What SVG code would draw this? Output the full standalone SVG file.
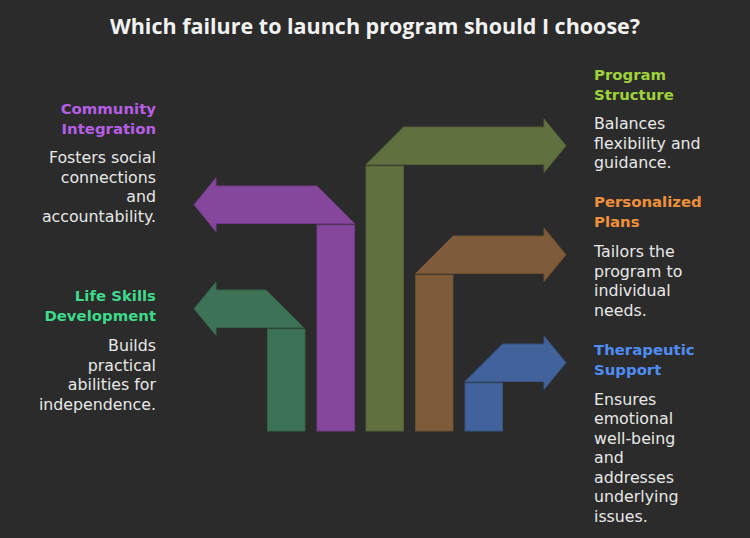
<svg xmlns="http://www.w3.org/2000/svg" width="750" height="538" viewBox="0 0 750 538">
<style>
.bg{fill:#2b2b2b}
.title{font-family:"Open Sans","Liberation Sans",sans-serif;font-weight:bold;font-size:21.5px;fill:#f2f2f2}
.h{font-family:"DejaVu Sans","Liberation Sans",sans-serif;font-weight:bold;font-size:14.9px}
.d{font-family:"DejaVu Sans","Liberation Sans",sans-serif;font-size:15.8px;fill:#e8e8e8}
.r{text-anchor:end}
.shape{stroke-width:1}
</style>
<rect class="bg" x="0" y="0" width="750" height="538"/>
<text class="title" x="375" y="34" text-anchor="middle">Which failure to launch program should I choose?</text>

<g id="life-skills">
<polygon class="shape" fill="#3e7256" stroke="#36604a" points="303.5,327.5 216,327.5 216,335.5 194,308.7 216,282 216,290 266,290"/>
<rect class="shape" fill="#3e7256" stroke="#36604a" x="267.5" y="329" width="37.5" height="102"/>
<text class="h r" fill="#3ed98a" x="156" y="301">Life Skills</text>
<text class="h r" fill="#3ed98a" x="156" y="320.5">Development</text>
<text class="d r" x="156" y="351">Builds</text>
<text class="d r" x="156" y="370.5">practical</text>
<text class="d r" x="156" y="390">abilities for</text>
<text class="d r" x="156" y="409.5">independence.</text>
</g>

<g id="community-integration">
<polygon class="shape" fill="#84479c" stroke="#703c85" points="354.5,223.5 216,223.5 216,231.7 194,204.7 216,177.7 216,186 317,186"/>
<rect class="shape" fill="#84479c" stroke="#703c85" x="317" y="225" width="37.5" height="206"/>
<text class="h r" fill="#b55ee6" x="156" y="114">Community</text>
<text class="h r" fill="#b55ee6" x="156" y="133.5">Integration</text>
<text class="d r" x="156" y="163">Fosters social</text>
<text class="d r" x="156" y="182.5">connections</text>
<text class="d r" x="156" y="202">and</text>
<text class="d r" x="156" y="221.5">accountability.</text>
</g>

<g id="program-structure">
<polygon class="shape" fill="#61703f" stroke="#535f36" points="366,164.5 544,164.5 544,172.5 566,145.7 544,119 544,127 403.5,127"/>
<rect class="shape" fill="#61703f" stroke="#535f36" x="366" y="166" width="37.5" height="265"/>
<text class="h" fill="#9fd13a" x="594" y="80">Program</text>
<text class="h" fill="#9fd13a" x="594" y="99.5">Structure</text>
<text class="d" x="594" y="129">Balances</text>
<text class="d" x="594" y="148.5">flexibility and</text>
<text class="d" x="594" y="168">guidance.</text>
</g>

<g id="personalized-plans">
<polygon class="shape" fill="#7e5c3a" stroke="#6b4e31" points="415.5,273.5 544,273.5 544,281.5 566,254.7 544,228 544,236 453,236"/>
<rect class="shape" fill="#7e5c3a" stroke="#6b4e31" x="415.5" y="275" width="37.5" height="156"/>
<text class="h" fill="#f0903a" x="594" y="207">Personalized</text>
<text class="h" fill="#f0903a" x="594" y="226.5">Plans</text>
<text class="d" x="594" y="257">Tailors the</text>
<text class="d" x="594" y="276.5">program to</text>
<text class="d" x="594" y="296">individual</text>
<text class="d" x="594" y="315.5">needs.</text>
</g>

<g id="therapeutic-support">
<polygon class="shape" fill="#41629a" stroke="#385483" points="465,381.5 544,381.5 544,389.5 566,362.7 544,336 544,344 502.5,344"/>
<rect class="shape" fill="#41629a" stroke="#385483" x="465" y="383" width="37.5" height="48"/>
<text class="h" fill="#4f8cf5" x="594" y="355">Therapeutic</text>
<text class="h" fill="#4f8cf5" x="594" y="374.5">Support</text>
<text class="d" x="594" y="404.5">Ensures</text>
<text class="d" x="594" y="424">emotional</text>
<text class="d" x="594" y="443.5">well-being</text>
<text class="d" x="594" y="463">and</text>
<text class="d" x="594" y="482.5">addresses</text>
<text class="d" x="594" y="502">underlying</text>
<text class="d" x="594" y="521.5">issues.</text>
</g>
</svg>
